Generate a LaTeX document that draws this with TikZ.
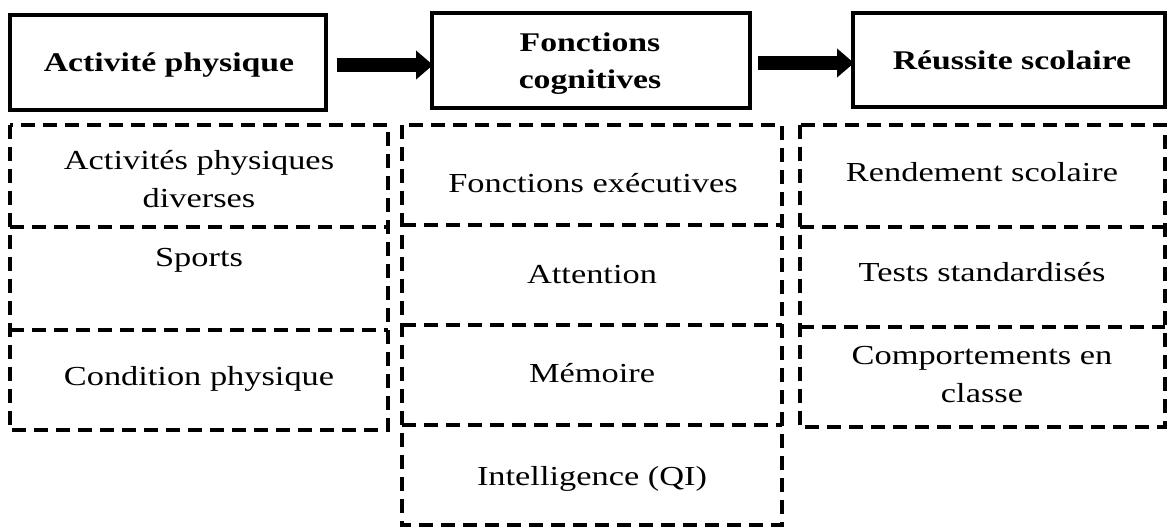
\documentclass[tikz,border=0pt]{standalone}
\usepackage{fontspec}
\setmainfont{Liberation Serif}[FakeStretch=1.25]
\usetikzlibrary{arrows.meta}
\begin{document}
\begin{tikzpicture}[x=1pt,y=-1pt,
  mainbox/.style={draw=black, line width=4pt, rectangle, inner sep=0pt},
  cellbox/.style={rectangle, inner sep=0pt},
  dashline/.style={draw=black, line width=4pt, dash pattern=on 14pt off 8pt},
  headtxt/.style={font=\fontsize{27}{37}\selectfont\bfseries, align=center, inner sep=0pt},
  celltxt/.style={font=\fontsize{27.5}{38}\selectfont, align=center, inner sep=0pt},
  bigarrow/.style={line width=14pt, -{Triangle[length=17pt,width=28pt]}}
]
\useasboundingbox (0,0) rectangle (1170,529);
% main boxes
\node[mainbox, minimum width=316pt, minimum height=95pt] (b1) at (168,62.5) {};
\node[mainbox, minimum width=318pt, minimum height=95pt] (b2) at (591,60.5) {};
\node[mainbox, minimum width=312pt, minimum height=94pt] (b3) at (1009,60) {};
\node[headtxt, anchor=base] (h1) at (169,72) {Activité physique};
\node[headtxt] (h2) at (590,64) {Fonctions\\cognitives};
\node[headtxt, anchor=base] (h3) at (1012,70) {Réussite scolaire};
% arrows
\coordinate (a1s) at (337,65);
\coordinate (a1e) at (433,65);
\coordinate (a2s) at (758,63);
\coordinate (a2e) at (854,63);
\draw[bigarrow] (a1s) -- (a1e);
\draw[bigarrow] (a2s) -- (a2e);
% column 1 cells
\node[cellbox, minimum width=378pt, minimum height=102pt] (c11) at (199,176) {};
\node[cellbox, minimum width=378pt, minimum height=103pt] (c12) at (199,278.5) {};
\node[cellbox, minimum width=378pt, minimum height=100pt] (c13) at (199,380) {};
% column 2 cells
\node[cellbox, minimum width=380pt, minimum height=100pt] (c21) at (592,175) {};
\node[cellbox, minimum width=380pt, minimum height=100pt] (c22) at (592,275) {};
\node[cellbox, minimum width=380pt, minimum height=100pt] (c23) at (592,375) {};
\node[cellbox, minimum width=380pt, minimum height=100pt] (c24) at (592,475) {};
% column 3 cells
\node[cellbox, minimum width=365pt, minimum height=102pt] (c31) at (982.5,176) {};
\node[cellbox, minimum width=365pt, minimum height=100pt] (c32) at (982.5,277) {};
\node[cellbox, minimum width=365pt, minimum height=100pt] (c33) at (982.5,377) {};
% column outlines and dividers
\draw[dashline] (c11.north west) rectangle (c13.south east);
\draw[dashline] (c11.south west) -- (c11.south east);
\draw[dashline] (c12.south west) -- (c12.south east);
\draw[dashline] (c21.north west) rectangle (c24.south east);
\draw[dashline] (c21.south west) -- (c21.south east);
\draw[dashline] (c22.south west) -- (c22.south east);
\draw[dashline] (c23.south west) -- (c23.south east);
\draw[dashline] (c31.north west) rectangle (c33.south east);
\draw[dashline] (c31.south west) -- (c31.south east);
\draw[dashline] (c32.south west) -- (c32.south east);
% texts
\node[celltxt] (t11) at (199,179) {Activités physiques\\diverses};
\node[celltxt, anchor=base] (t12) at (199,267) {Sports};
\node[celltxt, anchor=base] (t13) at (199,385) {Condition physique};
\node[celltxt, anchor=base] (t21) at (593,193) {Fonctions exécutives};
\node[celltxt, anchor=base] (t22) at (592,284) {Attention};
\node[celltxt, anchor=base] (t23) at (592,382) {Mémoire};
\node[celltxt, anchor=base] (t24) at (592,485) {Intelligence (QI)};
\node[celltxt, anchor=base] (t31) at (982,182) {Rendement scolaire};
\node[celltxt, anchor=base] (t32) at (982,282) {Tests standardisés};
\node[celltxt] (t33) at (982,375) {Comportements en\\classe};
\end{tikzpicture}
\end{document}
